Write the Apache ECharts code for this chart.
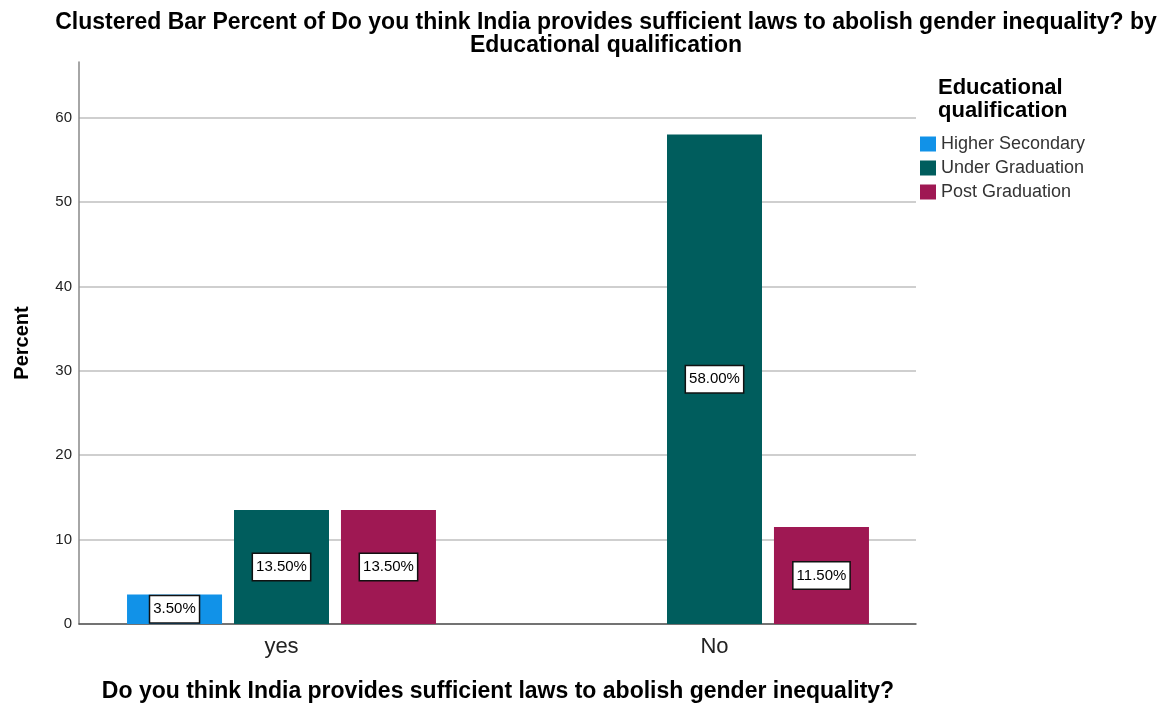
<!DOCTYPE html>
<html>
<head>
<meta charset="utf-8">
<script src="https://cdn.jsdelivr.net/npm/echarts@6/dist/echarts.min.js"></script>
<style>html,body{margin:0;padding:0;background:#fff}#c{width:1172px;height:709px}</style>
</head>
<body>
<div id="c"></div>
<script>
const categories = ['yes', 'No'];
const seriesNames = ['Higher Secondary', 'Under Graduation', 'Post Graduation'];
const higherSecondary = [3.5, null];
const underGraduation = [13.5, 58.0];
const postGraduation = [13.5, 11.5];
const yTicks = [0, 10, 20, 30, 40, 50, 60];

const colors = ['#1192e8', '#005d5d', '#9f1853'];
const FONT = '"Liberation Sans", Arial, sans-serif';
const YMAX = 66.6;

const chart = echarts.init(document.getElementById('c'), null, {renderer: 'canvas'});

const labelStyle = {
  show: true,
  position: 'inside',
  formatter: p => (p.value == null ? '' : p.value.toFixed(2) + '%'),
  color: '#000',
  fontSize: 15,
  fontFamily: FONT,
  backgroundColor: '#fff',
  borderColor: '#111',
  borderWidth: 1.5,
  padding: [6, 3, 5, 3]
};

function mkSeries(name, data, i) {
  return {
    name: name,
    type: 'bar',
    xAxisIndex: 1,
    yAxisIndex: 1,
    data: data,
    barWidth: 95,
    barGap: '12.6%',
    itemStyle: {color: colors[i]},
    label: labelStyle,
    emphasis: {disabled: true}
  };
}

chart.setOption({
  animation: false,
  backgroundColor: '#fff',
  textStyle: {fontFamily: FONT},
  title: [{
    text: 'Clustered Bar Percent of Do you think India provides sufficient laws to abolish gender inequality? by\nEducational qualification',
    left: 601,
    top: 6,
    textAlign: 'center',
    textStyle: {fontSize: 23, fontWeight: 'bold', color: '#000', lineHeight: 23, fontFamily: FONT}
  }, {
    text: 'Educational\nqualification',
    left: 933,
    top: 71,
    textStyle: {fontSize: 22, fontWeight: 'bold', color: '#000', lineHeight: 23, fontFamily: FONT}
  }],
  legend: {
    data: seriesNames,
    orient: 'vertical',
    left: 915,
    top: 130,
    itemWidth: 16,
    itemHeight: 15,
    itemGap: 6,
    icon: 'rect',
    textStyle: {fontSize: 18, color: '#333', fontFamily: FONT}
  },
  grid: [
    {left: 79, right: 256, top: 62, bottom: 85},
    {left: 65, right: 241, top: 62, bottom: 85}
  ],
  xAxis: [{
    gridIndex: 0,
    type: 'value',
    min: 0,
    max: 1,
    axisLine: {show: true, lineStyle: {color: '#555', width: 1.5}},
    axisTick: {show: false},
    axisLabel: {show: false},
    splitLine: {show: false}
  }, {
    gridIndex: 1,
    type: 'category',
    data: categories,
    axisLine: {show: false},
    axisTick: {show: false},
    axisLabel: {fontSize: 22, color: '#222', margin: 12, fontFamily: FONT},
    name: 'Do you think India provides sufficient laws to abolish gender inequality?',
    nameLocation: 'middle',
    nameGap: 56,
    nameTextStyle: {fontSize: 23, fontWeight: 'bold', color: '#000', fontFamily: FONT}
  }],
  yAxis: [{
    gridIndex: 0,
    type: 'value',
    min: 0,
    max: YMAX,
    interval: 10,
    axisLine: {show: true, lineStyle: {color: '#888', width: 1.5}},
    axisTick: {show: false},
    axisLabel: {
      fontSize: 15, color: '#222', margin: 7, fontFamily: FONT, showMaxLabel: false,
      formatter: v => (yTicks.indexOf(v) >= 0 ? String(v) : '')
    },
    splitLine: {show: true, showMaxLine: false, lineStyle: {color: '#cfcfcf', width: 2}},
    name: 'Percent',
    nameLocation: 'middle',
    nameGap: 47,
    nameRotate: 90,
    nameTextStyle: {fontSize: 20, fontWeight: 'bold', color: '#000', fontFamily: FONT}
  }, {
    gridIndex: 1,
    type: 'value',
    min: 0,
    max: YMAX,
    show: false
  }],
  series: [
    mkSeries(seriesNames[0], higherSecondary, 0),
    mkSeries(seriesNames[1], underGraduation, 1),
    mkSeries(seriesNames[2], postGraduation, 2)
  ]
});
</script>
</body>
</html>
